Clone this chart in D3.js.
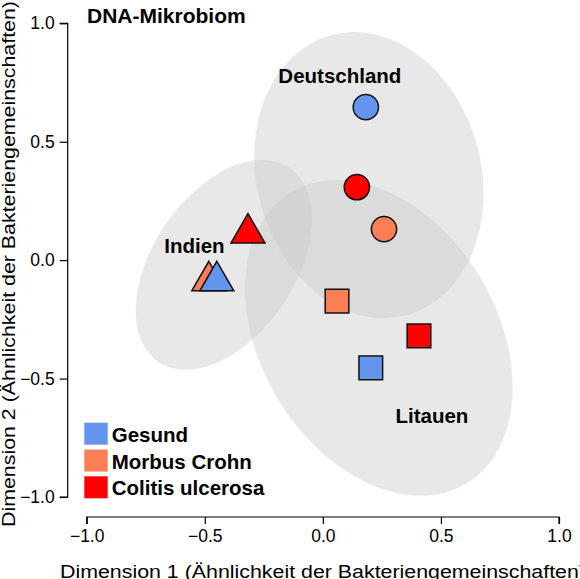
<!DOCTYPE html>
<html lang="de">
<head>
  <meta charset="UTF-8">
  <title>DNA-Mikrobiom</title>
  <style>
    html, body { margin: 0; padding: 0; background: #fff; }
    svg text { font-family: "Liberation Sans", Arial, sans-serif; fill: #000; }
    .axis path, .axis line { stroke: #000; stroke-width: 1.2; }
    .axis text { font-size: 17.5px; }
  </style>
</head>
<body>
<div class="chart"></div>
<script src="https://cdn.jsdelivr.net/npm/d3@7"></script>
<script>
  // groups (legend) and their colours
  const groups = ["Gesund", "Morbus Crohn", "Colitis ulcerosa"];
  const groupColors = ["#6495ed", "#fb7f55", "#ff0000"];

  // countries, one marker shape each
  const countries = ["Deutschland", "Indien", "Litauen"];

  // points (drawing order: later on top)
  const pointCountry = ["Deutschland", "Deutschland", "Deutschland", "Indien", "Indien", "Indien", "Litauen", "Litauen", "Litauen"];
  const pointGroup = ["Gesund", "Colitis ulcerosa", "Morbus Crohn", "Colitis ulcerosa", "Morbus Crohn", "Gesund", "Morbus Crohn", "Colitis ulcerosa", "Gesund"];
  const dim1 = [0.182, 0.144, 0.259, -0.317, -0.483, -0.449, 0.060, 0.407, 0.203];
  const dim2 = [0.646, 0.308, 0.131, 0.114, -0.088, -0.088, -0.173, -0.320, -0.455];

  // ellipses per country (data units, angle in degrees)
  const ellipseCx = [0.195, -0.419, 0.237];
  const ellipseCy = [0.359, -0.020, -0.328];
  const ellipseRx = [0.614, 0.496, 0.720];
  const ellipseRy = [0.475, 0.301, 0.500];
  const ellipseAngle = [75, -56, 59];

  // axis ticks
  const xTicks = [-1.0, -0.5, 0.0, 0.5, 1.0];
  const yTicks = [-1.0, -0.5, 0.0, 0.5, 1.0];

  const width = 580,
    height = 579;

  const svg = d3.select(".chart")
    .append("svg")
    .attr("width", width)
    .attr("height", height);

  const x = d3.scaleLinear().domain([-1, 1]).range([86.7, 559]);
  const y = d3.scaleLinear().domain([-1, 1]).range([497, 23.3]);

  const color = d3.scaleOrdinal().domain(groups).range(groupColors);
  const shape = d3.scaleOrdinal().domain(countries)
    .range([d3.symbolCircle, d3.symbolTriangle, d3.symbolSquare]);
  const shapeSize = d3.scaleOrdinal().domain(countries).range([500, 500, 560]);

  // ellipses
  svg.append("g")
    .selectAll("ellipse")
    .data(countries)
    .enter()
    .append("ellipse")
    .attr("transform", (d, i) => `translate(${x(ellipseCx[i])},${y(ellipseCy[i])}) rotate(${ellipseAngle[i]})`)
    .attr("rx", (d, i) => x(ellipseRx[i]) - x(0))
    .attr("ry", (d, i) => x(ellipseRy[i]) - x(0))
    .attr("fill", "#cccccc")
    .attr("fill-opacity", 0.45);

  // country labels (placed in data units)
  const labelX = [0.072, -0.544, 0.462];
  const labelY = [0.748, 0.030, -0.687];
  svg.append("g")
    .selectAll("text")
    .data(countries)
    .enter()
    .append("text")
    .attr("x", (d, i) => x(labelX[i]))
    .attr("y", (d, i) => y(labelY[i]))
    .attr("text-anchor", "middle")
    .style("font-size", "20.5px")
    .style("font-weight", "bold")
    .text(d => d);

  // markers
  svg.append("g")
    .selectAll("path")
    .data(dim1)
    .enter()
    .append("path")
    .attr("transform", (d, i) => `translate(${x(d)},${y(dim2[i])})`)
    .attr("d", (d, i) => d3.symbol().type(shape(pointCountry[i])).size(shapeSize(pointCountry[i]))())
    .attr("fill", (d, i) => color(pointGroup[i]))
    .attr("stroke", "#111")
    .attr("stroke-width", 1.5);

  // axes
  const xAxis = d3.axisBottom(x).tickValues(xTicks).tickFormat(d3.format(".1f")).tickSize(7).tickPadding(6);
  const yAxis = d3.axisLeft(y).tickValues(yTicks).tickFormat(d3.format(".1f")).tickSize(8).tickPadding(5);

  svg.append("g")
    .attr("class", "axis")
    .attr("transform", "translate(0,517)")
    .call(xAxis)
    .call(g => g.select(".domain").attr("d", `M${x(-1)},7V0H${x(1)}V7`));

  svg.append("g")
    .attr("class", "axis")
    .attr("transform", "translate(67.7,0)")
    .call(yAxis)
    .call(g => g.select(".domain").attr("d", `M-8,${y(1)}H0V${y(-1)}H-8`));

  svg.selectAll(".axis text").attr("font-family", null).style("font-size", "17.5px");

  // axis titles
  svg.append("text")
    .attr("x", 323)
    .attr("y", 577.5)
    .attr("text-anchor", "middle")
    .attr("textLength", 526)
    .attr("lengthAdjust", "spacingAndGlyphs")
    .style("font-size", "17.5px")
    .text("Dimension 1 (Ähnlichkeit der Bakteriengemeinschaften)");

  svg.append("text")
    .attr("transform", "translate(14.5,264) rotate(-90)")
    .attr("text-anchor", "middle")
    .attr("textLength", 526)
    .attr("lengthAdjust", "spacingAndGlyphs")
    .style("font-size", "17.5px")
    .text("Dimension 2 (Ähnlichkeit der Bakteriengemeinschaften)");

  // title
  svg.append("text")
    .attr("x", 87)
    .attr("y", 23)
    .style("font-size", "21px")
    .style("font-weight", "bold")
    .text("DNA-Mikrobiom");

  // legend
  const legend = svg.append("g")
    .selectAll("g")
    .data(groups)
    .enter()
    .append("g")
    .attr("transform", (d, i) => `translate(84.3,${422.7 + i * 26.8})`);

  legend.append("rect")
    .attr("width", 23.4)
    .attr("height", 22)
    .attr("fill", d => color(d));

  legend.append("text")
    .attr("x", 27.4)
    .attr("y", 19)
    .style("font-size", "20.5px")
    .style("font-weight", "bold")
    .text(d => d);
</script>
</body>
</html>
